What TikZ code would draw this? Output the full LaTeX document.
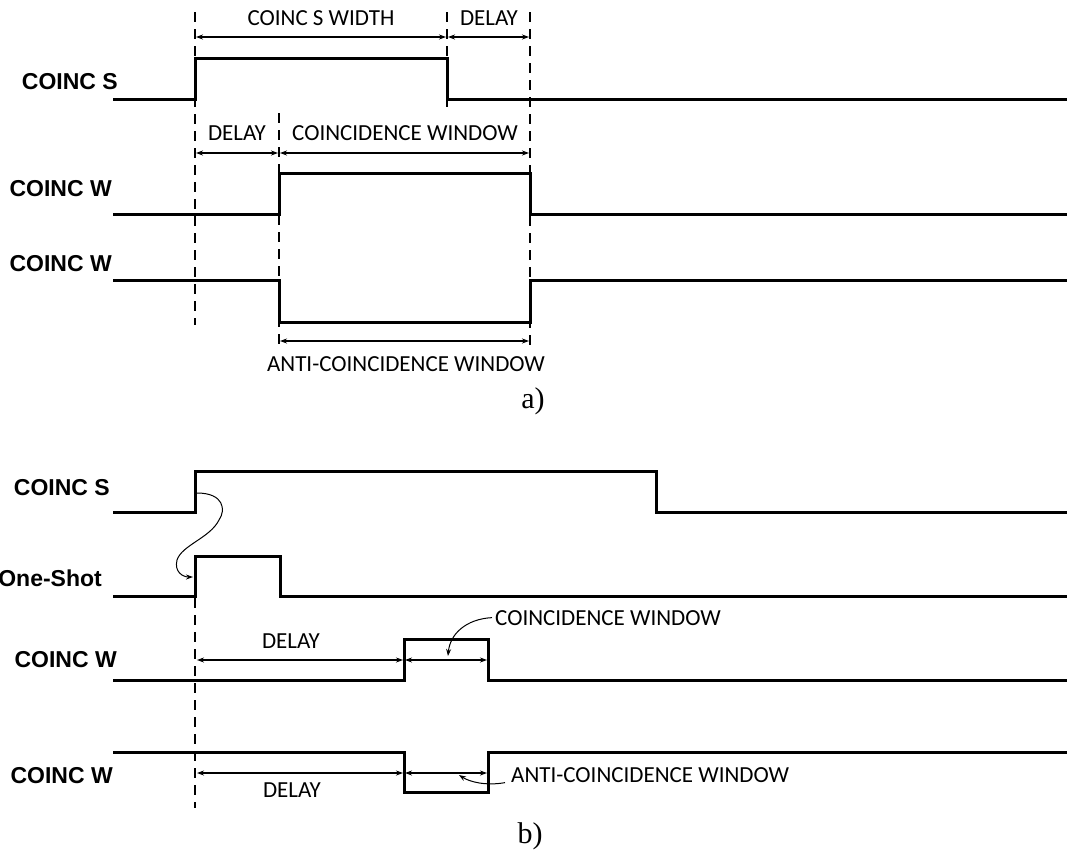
\documentclass[tikz,border=0pt]{standalone}
\usepackage{fontspec}
\setmainfont{Liberation Serif}
\newfontfamily\sigfont{Liberation Sans}
\newfontfamily\notefont{Carlito}
\usetikzlibrary{arrows.meta}

\tikzset{
  sig/.style={line width=3pt, line join=miter},
  guide/.style={line width=1.2pt, dash pattern=on 10pt off 7pt},
  dimline/.style={line width=1.1pt, {Stealth[length=7pt,width=5pt]}-{Stealth[length=7pt,width=5pt]}},
  bendarrow/.style={line width=1pt, -{Stealth[length=7pt,width=5pt]}},
  siglabel/.style={font=\sigfont\bfseries\fontsize{23}{25}\selectfont, anchor=base east, inner sep=0pt},
  note/.style={font=\notefont\fontsize{23}{25}\selectfont, anchor=base, inner sep=0pt},
  partlabel/.style={font=\fontsize{30}{32}\selectfont, anchor=base, inner sep=0pt}
}

\begin{document}
\begin{tikzpicture}[x=1pt, y=-1pt]
\useasboundingbox (0,0) rectangle (1067,854);

%% a) coincidence and anti-coincidence
\node[siglabel] (aS) at (118,89) {COINC S};
\node[siglabel] (aW) at (112,196) {COINC W};
\node[siglabel] (aWn) at (112,271) {COINC W};

\draw[sig] (113,99) -- (195,99) -- (195,58) -- (447,58) -- (447,99) -- (1067,99);
\draw[sig] (113,214) -- (279,214) -- (279,173) -- (530,173) -- (530,214) -- (1067,214);
\draw[sig] (113,280) -- (279,280) -- (279,322) -- (530,322) -- (530,280) -- (1067,280);

\draw[guide] (195,12) -- (195,325);
\draw[guide] (279,113) -- (279,345);
\draw[guide] (447,12) -- (447,108);
\draw[guide] (530,12) -- (530,348);

\coordinate (sw1) at (196,37);  \coordinate (sw2) at (446,37);
\coordinate (dl1) at (448,37);  \coordinate (dl2) at (529,37);
\coordinate (dl3) at (196,153); \coordinate (dl4) at (278,153);
\coordinate (cw1) at (280,153); \coordinate (cw2) at (529,153);
\coordinate (aw1) at (280,341); \coordinate (aw2) at (529,341);

\draw[dimline] (sw1) -- (sw2);
\draw[dimline] (dl1) -- (dl2);
\draw[dimline] (dl3) -- (dl4);
\draw[dimline] (cw1) -- (cw2);
\draw[dimline] (aw1) -- (aw2);

\node[note] (swtext) at (321,25) {COINC S WIDTH};
\node[note] (dltext) at (489,25) {DELAY};
\node[note] (dl2text) at (237,140) {DELAY};
\node[note] (cwtext) at (405,140) {COINCIDENCE WINDOW};
\node[note] (awtext) at (406,371) {ANTI-COINCIDENCE WINDOW};
\node[partlabel] (parta) at (533,408) {a)};

%% b) one-shot triggered window
\node[siglabel] (bS) at (110,495) {COINC S};
\node[siglabel] (bO) at (102,586) {One-Shot};
\node[siglabel] (bW) at (117,667) {COINC W};
\node[siglabel] (bWn) at (113,783) {COINC W};

\draw[sig] (113,512) -- (195,512) -- (195,471) -- (656,471) -- (656,512) -- (1067,512);
\draw[sig] (113,596) -- (195,596) -- (195,556) -- (280,556) -- (280,596) -- (1067,596);
\draw[sig] (113,680) -- (404,680) -- (404,639) -- (488,639) -- (488,680) -- (1067,680);
\draw[sig] (113,752) -- (404,752) -- (404,792) -- (488,792) -- (488,752) -- (1067,752);

\draw[guide] (195,598) -- (195,808);

\coordinate (rise) at (197,493);
\coordinate (shot) at (193,577);
\draw[bendarrow] (rise) .. controls (224,493) and (226,510) .. (219,520)
  .. controls (210,538) and (182,545) .. (177,560)
  .. controls (174,572) and (183,577) .. (shot);

\coordinate (bd1) at (197,660); \coordinate (bd2) at (403,660);
\coordinate (bc1) at (405,660); \coordinate (bc2) at (487,660);
\coordinate (bd3) at (197,773); \coordinate (bd4) at (403,773);
\coordinate (ba1) at (405,773); \coordinate (ba2) at (487,773);

\draw[dimline] (bd1) -- (bd2);
\draw[dimline] (bc1) -- (bc2);
\draw[dimline] (bd3) -- (bd4);
\draw[dimline] (ba1) -- (ba2);

\node[note] (bdtext) at (291,648) {DELAY};
\node[note] (bd2text) at (292,797) {DELAY};
\node[note, anchor=base west] (bcwtext) at (495,625) {COINCIDENCE WINDOW};
\node[note, anchor=base west] (bawtext) at (511,782) {ANTI-COINCIDENCE WINDOW};

\coordinate (cwtip) at (448,656);
\coordinate (awtip) at (459,775);
\draw[bendarrow] ([xshift=-3pt]bcwtext.west) .. controls (466,619) and (450,634) .. (cwtip);
\draw[bendarrow] ([xshift=-6pt,yshift=-8pt]bawtext.west) .. controls (486,786) and (470,782) .. (awtip);

\node[partlabel] (partb) at (530,843) {b)};
\end{tikzpicture}
\end{document}
